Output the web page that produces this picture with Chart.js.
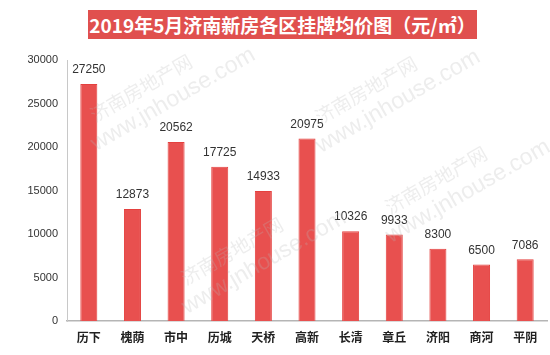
<!DOCTYPE html>
<html><head><meta charset="utf-8">
<script src="https://cdn.jsdelivr.net/npm/chart.js@4"></script>
<style>
html,body{margin:0;padding:0;background:#fff;}
#wrap{position:relative;width:550px;height:355px;}
#title{position:absolute;left:88px;top:10px;width:389px;height:29px;background:#e0504e;color:#fff;font:bold 19px "Noto Sans CJK SC",sans-serif;line-height:29px;text-align:center;white-space:nowrap;z-index:2;}
canvas{position:absolute;left:0;top:0;}
</style></head>
<body>
<div id="wrap">
<div id="title">2019年5月济南新房各区挂牌均价图（元/㎡）</div>
<canvas id="c" width="550" height="355"></canvas>
</div>
<script>
const categories = ["历下","槐荫","市中","历城","天桥","高新","长清","章丘","济阳","商河","平阴"];
const prices = [27250,12873,20562,17725,14933,20975,10326,9933,8300,6500,7086];
const yTicks = [0,5000,10000,15000,20000,25000,30000];

const valueLabels = {
  id:'valueLabels',
  afterDatasetsDraw(chart){
    const ctx = chart.ctx;
    const meta = chart.getDatasetMeta(0);
    ctx.save();
    ctx.font = '12px "Liberation Sans", Arial, sans-serif';
    ctx.fillStyle = '#333';
    ctx.textAlign = 'center';
    ctx.textBaseline = 'bottom';
    meta.data.forEach((bar,i)=>{
      ctx.fillText(String(prices[i]), bar.x, bar.y - 8);
    });
    ctx.restore();
  }
};

const watermark = {
  id:'watermark',
  afterDraw(chart){
    const ctx = chart.ctx;
    const spots = [[141,88],[366,90],[436,180],[232,251]];
    ctx.save();
    ctx.fillStyle = 'rgba(185,185,185,0.25)';
    ctx.textAlign = 'center';
    ctx.textBaseline = 'middle';
    spots.forEach(([x,y])=>{
      ctx.save();
      ctx.translate(x,y);
      ctx.rotate(-30*Math.PI/180);
      ctx.font = '19px "Noto Sans CJK SC", sans-serif';
      ctx.fillText('济南房地产网', 0, 0);
      ctx.font = '23px "Liberation Sans", Arial, sans-serif';
      ctx.fillText('www.jnhouse.com', 22, 26);
      ctx.restore();
    });
    ctx.restore();
  }
};

new Chart(document.getElementById('c'), {
  type:'bar',
  data:{
    labels: categories,
    datasets:[{
      data: prices,
      backgroundColor:'#e8504f',
      borderColor:'#e4413f',
      borderWidth:1,
      barPercentage:0.78,
      categoryPercentage:0.5
    }]
  },
  options:{
    responsive:false,
    animation:false,
    layout:{padding:{top:60,right:3,left:0,bottom:0}},
    plugins:{legend:{display:false},tooltip:{enabled:false},title:{display:false}},
    scales:{
      x:{
        grid:{display:false,drawTicks:false},
        border:{display:true,color:'#b5b5b5',width:1.5},
        ticks:{color:'#222',padding:9,font:{family:'"Noto Sans CJK SC", sans-serif',size:12,weight:'bold'}},
        afterFit(s){ s.height = 34; }
      },
      y:{
        min:0,max:30000,
        afterBuildTicks(s){ s.ticks = yTicks.map(v=>({value:v})); },
        grid:{display:false,drawTicks:false},
        border:{display:true,color:'#c8c8c8',width:1},
        ticks:{color:'#333',padding:9,font:{family:'"Liberation Sans", Arial, sans-serif',size:11},callback:(v)=>String(v)},
        afterFit(s){ s.width = 67; }
      }
    }
  },
  plugins:[valueLabels, watermark]
});
</script>
</body></html>
